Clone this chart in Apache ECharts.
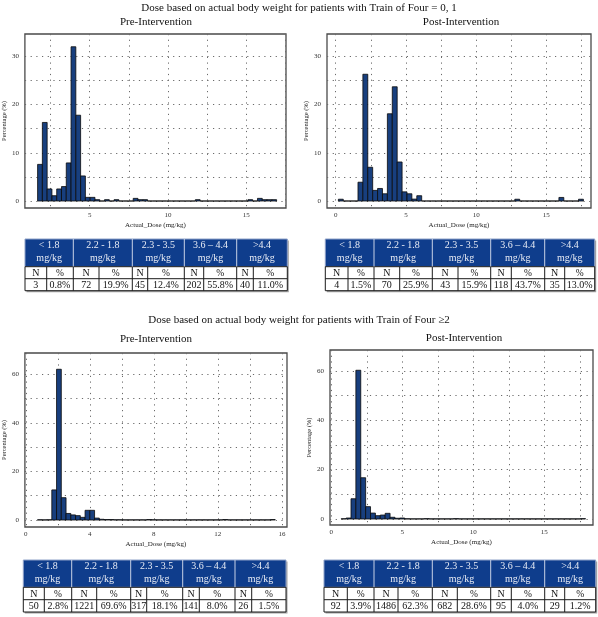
<!DOCTYPE html>
<html>
<head>
<meta charset="utf-8">
<script src="https://cdn.jsdelivr.net/npm/echarts@6/dist/echarts.min.js"></script>
<style>
html,body{margin:0;padding:0;background:#fff;}
#chart{width:598px;height:617px;}
</style>
</head>
<body>
<div id="chart"></div>
<script>
// ---------------- DATA ----------------
const mainTitles = [
  'Dose based on actual body weight for patients with Train of Four = 0, 1',
  'Dose based on actual body weight for patients with Train of Four \u22652'
];
const panelTitles = ['Pre-Intervention', 'Post-Intervention', 'Pre-Intervention', 'Post-Intervention'];
const xAxisName = 'Actual_Dose (mg/kg)';
const yAxisName = 'Percentage (%)';

// histogram bins: start of first bin, bin width, percentage per bin
const tof01PreBinStart = 1.68, tof01PreBinWidth = 0.305;
const tof01Pre = [7.6,16.3,2.5,1.1,2.5,3.0,7.9,32.0,17.8,5.2,
  0.76,0.76,0.28,0,0.28,0,0.28,0,0,0,
  0.55,0.28,0.28,0,0,0,0,0,0,0,
  0,0,0,0.28,0,0,0,0,0,0,
  0,0,0,0,0.28,0,0.55,0.28,0.28,0.28];

const tof01PostBinStart = 0.19, tof01PostBinWidth = 0.349;
const tof01Post = [0.37,0,0,0,3.9,26.3,7.0,2.2,2.6,1.5,
  18.1,23.7,8.1,1.9,1.5,0.4,1.1,0,0,0,
  0,0,0,0,0,0,0,0,0,0,
  0,0,0,0,0,0,0.37,0,0,0,
  0,0,0,0,0,0.74,0,0,0,0.37];

const tof2PreBinStart = 0.73, tof2PreBinWidth = 0.297;
const tof2Pre = [0.1,0.06,0.1,12.4,62.1,9.2,2.7,2.1,1.8,1.1,
  4.0,4.0,0.8,0.3,0.2,0.2,0.1,0.1,0.06,0.06,
  0.06,0.06,0.06,0.2,0.1,0.06,0.06,0.06,0.06,0.06,
  0.06,0.06,0.06,0.06,0.06,0.06,0.06,0.06,0.06,0.2,
  0.06,0.06,0.06,0.06,0.06,0.06,0.06,0.06,0.06,0.2];

const tof2PostBinStart = 0.7, tof2PostBinWidth = 0.344;
const tof2Post = [0.1,0.4,8.2,60.2,16.7,5.0,2.4,1.35,1.6,2.3,
  0.7,0.3,0.4,0.1,0.05,0.05,0.05,0.15,0.05,0.05,
  0.05,0.05,0.05,0.15,0.05,0.05,0.05,0.05,0.05,0.05,
  0.05,0.05,0.05,0.05,0.05,0.05,0.05,0.05,0.05,0.05,
  0.05,0.05,0.05,0.05,0.05,0.05,0.05,0.05,0.05,0.15];

// axis tick labels and grid values
const xLabels1 = [5,10,15],          xGrid1 = [2.5,5,7.5,10,12.5,15,17.5];
const xLabels2 = [0,5,10,15],        xGrid2 = [0,2.5,5,7.5,10,12.5,15,17.5];
const xLabels3 = [0,4,8,12,16],      xGrid3 = [0,2,4,6,8,10,12,14,16];
const xLabels4 = [0,5,10,15],        xGrid4 = [0,2.5,5,7.5,10,12.5,15,17.5];
const yLabelsA = [0,10,20,30],       yGridA = [0,5,10,15,20,25,30];
const yLabelsB = [0,20,40,60],       yGridB = [0,10,20,30,40,50,60];

// tables
const doseGroups = ['< 1.8', '2.2 - 1.8', '2.3 - 3.5', '3.6 \u2013 4.4', '>4.4'];
const doseUnit = 'mg/kg';
const subHeads = ['N', '%'];
const tof01PreN  = [3, 72, 45, 202, 40];
const tof01PreP  = ['0.8%', '19.9%', '12.4%', '55.8%', '11.0%'];
const tof01PostN = [4, 70, 43, 118, 35];
const tof01PostP = ['1.5%', '25.9%', '15.9%', '43.7%', '13.0%'];
const tof2PreN   = [50, 1221, 317, 141, 26];
const tof2PreP   = ['2.8%', '69.6%', '18.1%', '8.0%', '1.5%'];
const tof2PostN  = [92, 1486, 682, 95, 29];
const tof2PostP  = ['3.9%', '62.3%', '28.6%', '4.0%', '1.2%'];

// ---------------- LAYOUT / STYLE ----------------
const FONT = '"Liberation Serif", "DejaVu Serif", serif';
const BAR = '#183f7e';
const HEAD = '#0f3d8c';

const panels = [
  {grid:{left:24, top:34, width:262, height:174}, x:[0.87,17.53], y:[-1.45,34.65], xl:xLabels1, xg:xGrid1, yl:yLabelsA, yg:yGridA,
   start:tof01PreBinStart, w:tof01PreBinWidth, vals:tof01Pre},
  {grid:{left:327, top:34, width:264, height:174}, x:[-0.62,18.18], y:[-1.45,34.65], xl:xLabels2, xg:xGrid2, yl:yLabelsA, yg:yGridA,
   start:tof01PostBinStart, w:tof01PostBinWidth, vals:tof01Post},
  {grid:{left:24, top:353, width:263, height:174}, x:[-0.06,16.32], y:[-2.88,68.8], xl:xLabels3, xg:xGrid3, yl:yLabelsB, yg:yGridB,
   start:tof2PreBinStart, w:tof2PreBinWidth, vals:tof2Pre},
  {grid:{left:330, top:350, width:263, height:175}, x:[-0.09,18.43], y:[-2.43,68.4], xl:xLabels4, xg:xGrid4, yl:yLabelsB, yg:yGridB,
   start:tof2PostBinStart, w:tof2PostBinWidth, vals:tof2Post}
];

const grids = [], xAxes = [], yAxes = [], series = [];
const dotted = {type:[1.2,4.5], color:'#6a6a6a', width:1};
panels.forEach((p, i) => {
  grids.push(Object.assign({show:true, borderColor:'#4a4a4a', borderWidth:1.3, containLabel:false}, p.grid));
  xAxes.push({
    gridIndex:i, type:'value', min:p.x[0], max:p.x[1],
    axisLine:{show:false},
    axisTick:{show:false, customValues:p.xg},
    splitLine:{show:true, lineStyle:dotted},
    axisLabel:{customValues:p.xl, fontSize:7, fontFamily:FONT, color:'#333', margin:4},
    name:xAxisName, nameLocation:'middle', nameGap:14,
    nameTextStyle:{fontSize:7, fontFamily:FONT, color:'#222'}
  });
  yAxes.push({
    gridIndex:i, type:'value', min:p.y[0], max:p.y[1],
    axisLine:{show:false},
    axisTick:{show:false, customValues:p.yg},
    splitLine:{show:true, lineStyle:dotted},
    axisLabel:{customValues:p.yl, fontSize:7, fontFamily:FONT, color:'#333', margin:6},
    name:yAxisName, nameLocation:'middle', nameGap:16,
    nameTextStyle:{fontSize:6.5, fontFamily:FONT, color:'#222'}
  });
  const data = p.vals.map((v, k) => [p.start + k * p.w, p.start + (k + 1) * p.w, v]);
  series.push({
    type:'custom', xAxisIndex:i, yAxisIndex:i,
    encode:{x:[0,1], y:2},
    data:data, silent:true, clip:true,
    renderItem:function(params, api){
      const a = api.coord([api.value(0), 0]);
      const b = api.coord([api.value(1), api.value(2)]);
      return {type:'rect',
        shape:{x:a[0], y:b[1], width:b[0]-a[0], height:a[1]-b[1]},
        style:{fill:BAR, stroke:'#0a0a0a', lineWidth:0.8}};
    }
  });
});

// ---- tables as graphic elements ----
function table(edges, rows, Ns, Ps){
  const els = [];
  const L = edges[0], R = edges[edges.length-1];
  const [y0, y1, y2, y3] = rows;
  els.push({type:'rect', shape:{x:L+1.5, y:y0+1.5, width:R-L, height:y3-y0}, style:{fill:'#a0a0a0'}});
  els.push({type:'rect', shape:{x:L, y:y0, width:R-L, height:y1-y0}, style:{fill:HEAD, stroke:'#8fa2c8', lineWidth:1}});
  els.push({type:'rect', shape:{x:L, y:y1, width:R-L, height:y3-y1}, style:{fill:'#fff', stroke:'#1a1a1a', lineWidth:1}});
  for (let g = 1; g < 5; g++) {
    els.push({type:'line', shape:{x1:edges[2*g], y1:y0, x2:edges[2*g], y2:y1}, style:{stroke:'#c8d2e6', lineWidth:1}});
  }
  for (let k = 1; k < edges.length-1; k++) {
    els.push({type:'line', shape:{x1:edges[k], y1:y1, x2:edges[k], y2:y3}, style:{stroke:'#1a1a1a', lineWidth:1}});
  }
  els.push({type:'line', shape:{x1:L, y1:y2, x2:R, y2:y2}, style:{stroke:'#1a1a1a', lineWidth:1}});
  for (let g = 0; g < 5; g++) {
    const cx = (edges[2*g] + edges[2*g+2]) / 2;
    els.push({type:'text', x:cx, y:y0+6.8, style:{text:doseGroups[g], fill:'#e8ecf5', font:'10px ' + FONT, align:'center', verticalAlign:'middle'}});
    els.push({type:'text', x:cx, y:y0+19.8, style:{text:doseUnit, fill:'#e8ecf5', font:'10px ' + FONT, align:'center', verticalAlign:'middle'}});
    const c1 = (edges[2*g] + edges[2*g+1]) / 2, c2 = (edges[2*g+1] + edges[2*g+2]) / 2;
    els.push({type:'text', x:c1, y:(y1+y2)/2+0.5, style:{text:subHeads[0], fill:'#111', font:'10px ' + FONT, align:'center', verticalAlign:'middle'}});
    els.push({type:'text', x:c2, y:(y1+y2)/2+0.5, style:{text:subHeads[1], fill:'#111', font:'9.5px ' + FONT, align:'center', verticalAlign:'middle'}});
    els.push({type:'text', x:c1, y:(y2+y3)/2+0.5, style:{text:String(Ns[g]), fill:'#111', font:'10px ' + FONT, align:'center', verticalAlign:'middle'}});
    els.push({type:'text', x:c2, y:(y2+y3)/2+0.5, style:{text:Ps[g], fill:'#111', font:'10px ' + FONT, align:'center', verticalAlign:'middle'}});
  }
  return els;
}

const graphics = [];
graphics.push({type:'text', x:299, y:8, style:{text:mainTitles[0], fill:'#111', font:'11px ' + FONT, align:'center', verticalAlign:'middle'}});
graphics.push({type:'text', x:299, y:320, style:{text:mainTitles[1], fill:'#111', font:'11px ' + FONT, align:'center', verticalAlign:'middle'}});
graphics.push({type:'text', x:156, y:22, style:{text:panelTitles[0], fill:'#111', font:'11px ' + FONT, align:'center', verticalAlign:'middle'}});
graphics.push({type:'text', x:461, y:22, style:{text:panelTitles[1], fill:'#111', font:'11px ' + FONT, align:'center', verticalAlign:'middle'}});
graphics.push({type:'text', x:156, y:339, style:{text:panelTitles[2], fill:'#111', font:'11px ' + FONT, align:'center', verticalAlign:'middle'}});
graphics.push({type:'text', x:464, y:338, style:{text:panelTitles[3], fill:'#111', font:'11px ' + FONT, align:'center', verticalAlign:'middle'}});

graphics.push(...table([25,46.7,73.3,99,132.3,147.7,184.3,203.7,236.7,253.3,287.3], [239,266.7,278.7,290.7], tof01PreN, tof01PreP));
graphics.push(...table([325.3,348,374,399.7,432.3,458,490.7,511.3,544.7,564.7,594.7], [239,266.7,278.7,290.7], tof01PostN, tof01PostP));
graphics.push(...table([23.3,44.3,71.7,96.7,130.7,146.7,182.7,199.3,235,251.7,286], [560,587.3,599.7,612], tof2PreN, tof2PreP));
graphics.push(...table([324,347.3,374,398,432.3,457.3,490.7,511.3,544.7,564.7,595.7], [560,587.3,599.7,612], tof2PostN, tof2PostP));

const chart = echarts.init(document.getElementById('chart'), null, {renderer:'canvas'});
chart.setOption({
  animation:false,
  backgroundColor:'#fff',
  grid:grids, xAxis:xAxes, yAxis:yAxes, series:series,
  graphic:{elements:graphics}
});
</script>
</body>
</html>
